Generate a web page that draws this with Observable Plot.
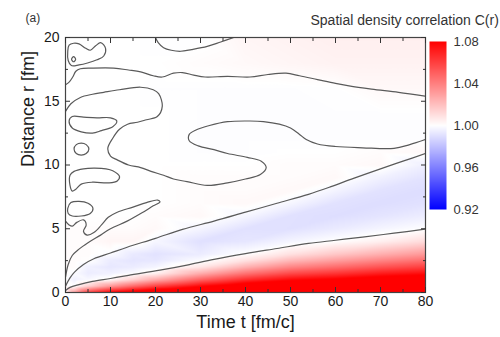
<!DOCTYPE html>
<html><head><meta charset="utf-8">
<script src="https://cdn.jsdelivr.net/npm/d3@7"></script>
<script src="https://cdn.jsdelivr.net/npm/@observablehq/plot@0.6"></script>
<style>
html,body{margin:0;padding:0;background:#fff;overflow:hidden;}
#wrap{position:relative;width:500px;height:337px;font-family:"Liberation Sans",Arial,sans-serif;}
#wrap svg{position:absolute;}
</style></head><body><div id="wrap"></div>
<script>
// ---- grid of C(r,t) values (columns = times, rows = distances) ----
const times = [0, 2, 5, 10, 15, 20, 30, 40, 50, 60, 70, 80];
const distances = [0, 0.5, 1, 1.5, 2, 2.5, 3, 4, 5, 6, 7, 8, 9, 10, 11, 12, 14, 16, 18, 20];
const c_t0  = [1.003, 0.999, 1.0005, 1.001, 1.001, 1.001, 1.001, 1.001, 1.001, 1.0, 1.0, 1.0, 1.0, 1.0, 1.0, 1.0, 1.0, 1.0, 1.0, 1.0];
const c_t2  = [1.03, 1.0, 0.9955, 0.9987, 1.001, 1.001, 1.001, 1.001, 1.001, 1.0, 1.0, 1.0, 1.0, 1.0, 1.0, 1.0, 1.0, 1.0, 1.0, 1.0];
const c_t5  = [1.06, 1.0138, 0.9978, 0.9942, 0.9955, 1.0005, 1.001, 1.001, 1.001, 1.0, 1.0, 1.0, 1.0, 1.0, 1.0, 1.0, 1.0, 1.0, 1.0, 1.0];
const c_t10 = [1.08, 1.032, 1.0022, 0.9956, 0.9926, 0.9939, 0.9989, 1.003, 1.001, 1.0, 1.0, 1.0, 1.0, 1.0, 1.0, 1.0, 1.0, 1.0, 1.0, 1.0];
const c_t15 = [1.09, 1.0464, 1.0137, 0.9989, 0.994, 0.9918, 0.9933, 1.003, 1.001, 1.0, 1.0, 1.0, 1.0, 1.0, 1.0, 1.0, 1.0, 1.0, 1.0, 1.0];
const c_t20 = [1.10, 1.0593, 1.0264, 1.004, 0.9968, 0.9925, 0.991, 0.9973, 1.002, 1.001, 1.0, 1.0, 1.0, 1.0, 1.0, 1.0, 1.0, 0.9995, 1.0, 0.9995];
const c_t30 = [1.11, 1.0775, 1.049, 1.0253, 1.0075, 0.999, 0.9941, 0.9904, 0.9969, 1.002, 1.001, 1.001, 1.001, 1.0, 0.9995, 0.9995, 0.9995, 0.9995, 1.001, 0.9995];
const c_t40 = [1.12, 1.0917, 1.0661, 1.0435, 1.0242, 1.0092, 1.0003, 0.9923, 0.9907, 0.9972, 1.002, 1.001, 1.001, 1.0, 0.9995, 0.9995, 0.9995, 0.9995, 1.002, 1.003];
const c_t50 = [1.125, 1.1002, 1.0773, 1.0565, 1.038, 1.0221, 1.0094, 0.9969, 0.9904, 0.9906, 0.9973, 1.002, 1.001, 1.001, 1.0, 0.9995, 0.9995, 0.9995, 1.003, 1.004];
const c_t60 = [1.125, 1.1029, 1.0822, 1.0631, 1.0458, 1.0305, 1.0174, 1.0005, 0.9936, 0.9897, 0.9909, 0.9966, 1.002, 1.001, 1.0, 0.9995, 0.9995, 0.9998, 1.004, 1.005];
const c_t70 = [1.13, 1.109, 1.0892, 1.0708, 1.0538, 1.0385, 1.025, 1.0048, 0.9969, 0.9918, 0.9895, 0.991, 0.9957, 1.002, 1.001, 0.9995, 0.9995, 1.002, 1.004, 1.005];
const c_t80 = [1.13, 1.1109, 1.0928, 1.0758, 1.06, 1.0455, 1.0324, 1.0112, 0.9999, 0.9945, 0.9908, 0.9895, 0.9912, 0.9952, 1.002, 0.9995, 0.9995, 1.002, 1.004, 1.005];
const corrColumns = [c_t0, c_t2, c_t5, c_t10, c_t15, c_t20, c_t30, c_t40, c_t50, c_t60, c_t70, c_t80];

// ---- contour lines (C = 1.00), [t, r] ----
const lineL1 = [[0,0.15],[1,0.4],[3,0.62],[6,0.87],[10,1.1],[14,1.35],[21,1.75],[27,2.15],[33,2.6],[40,3.05],[47,3.45],[54,3.85],[60,4.1],[66,4.35],[73,4.65],[80,4.97]];
const lineL2 = [[0,0.5],[1,1.15],[2,1.6],[4,2.2],[6.3,2.65],[10,3.1],[13.7,3.55],[20,4.25],[26,4.95],[33,5.6],[40,6.3],[47,7.0],[54,7.7],[59,8.3],[64,8.95],[70,9.7],[75,10.3],[80,10.9]];
const lineL3 = [[0,1.2],[0.6,2.2],[1.5,2.9],[3,3.4],[5,3.9],[7.8,4.5],[10,5.0],[13.7,5.6],[17,6.25],[19.5,6.8],[21,7.1],[20.5,7.25],[18,7.05],[15,6.7],[11.5,6.3],[9.5,5.9],[8,5.3],[6.3,4.7],[4.8,4.5],[4,4.8],[4.6,5.3],[4,5.7],[2.5,5.5],[1.5,5.2],[0.8,5.3],[0,5.6]];
const lineP = [[0,14.2],[1.2,14.8],[3.3,15.3],[6,15.55],[8.5,15.7],[12,15.9],[16.7,16.1],[19.5,15.9],[20.7,15.6],[21.5,14.6],[20.4,13.8],[18,13.55],[16,13.35],[13.8,13.2],[12,12.8],[10.5,12.1],[9.4,11.3],[10,10.7],[11.5,10.4],[14,10.0],[16.7,9.8],[19,9.5],[21.8,9.2],[24,8.9],[27,8.7],[31.5,8.4],[36,8.6],[40,8.9],[43.3,9.25],[44.6,9.8],[43.5,10.3],[40.4,10.6],[36,10.9],[33,11.2],[29.5,11.5],[27.5,11.9],[27.5,12.4],[29,12.75],[32,13.1],[36,13.4],[41,13.45],[44,13.4],[47.5,13.2],[50,12.9],[52,12.4],[53.5,12],[56,11.65],[60,11.45],[66,11.35],[73,11.3],[76.5,11.6],[80,12.0]];
const lineQ = [[0,16.3],[0.8,16.5],[1.6,16.9],[2.3,17.35],[3.3,17.55],[6,17.6],[10.7,17.6],[14,17.45],[16.7,17.3],[19.5,17.0],[21.5,16.9],[24,17.2],[26,17.25],[28.5,17.05],[31,16.9],[36,16.95],[41,16.9],[45,17.1],[49,17.2],[52,17.0],[56,16.7],[60,16.4],[63,16.2],[68,15.95],[74,15.7],[80,15.4]];
const lineE = [[20,20],[20.6,19.6],[21.8,19.2],[23.5,19.0],[25.6,18.92],[28,19.05],[31.5,19.3],[34.5,19.65],[37.4,20]];
const loopA = [[0.8,13.45],[1.5,13.8],[4,13.75],[7,13.7],[10,13.7],[11.4,13.45],[10.5,13.0],[8,12.7],[6,12.5],[3.5,12.6],[1.5,12.9]];
const loopB = [[1.0,9.2],[1.9,9.5],[4,9.7],[6.3,9.75],[9,9.7],[10.5,9.55],[12,9.1],[11.5,8.75],[9.5,8.6],[6,8.65],[3.5,8.5],[2.3,8.1],[1.5,7.95],[1.0,8.4]];
const loopC = [[0.5,6.6],[1.2,7.05],[3,7.15],[5,7.0],[6.1,6.6],[5.5,6.2],[3.5,6.0],[1.5,6.0],[0.6,6.2]];
const loopD = [[0.5,18.9],[0.8,19.4],[1.8,19.55],[3,19.5],[4.5,19.15],[5.5,19.0],[6.7,19.35],[7.8,19.6],[8.9,19.15],[8.5,18.55],[7,18.25],[4.9,18.0],[3,17.85],[1.3,17.8],[0.6,18.2]];
const ringSmall1 = [[1.9,11.25],[2.4,11.6],[3.5,11.72],[4.6,11.6],[5.2,11.25],[4.6,10.9],[3.5,10.78],[2.4,10.9]];
const ringSmall2 = [[1.35,18.3],[1.8,18.5],[2.25,18.3],[1.8,18.1]];

// ---- ticks ----
const timeTicks = [0, 10, 20, 30, 40, 50, 60, 70, 80];
const timeMinor = [5, 15, 25, 35, 45, 55, 65, 75];
const distTicks = [0, 5, 10, 15, 20];
const distMinor = [2.5, 7.5, 12.5, 17.5];
const cbarTicks = [0.92, 0.96, 1.00, 1.04, 1.08];

// ---- build tables ----
const gridData = [];
times.forEach((t, i) => distances.forEach((r, j) => gridData.push({t, r, c: corrColumns[i][j]})));
const toRows = (obj) => Object.entries(obj).flatMap(([id, pts]) => pts.map(([t, r]) => ({id, t, r})));
const openLines = toRows({lineL1, lineL2, lineL3, lineP, lineQ, lineE});
const closedLines = toRows({loopA, loopB, loopC, loopD, ringSmall1, ringSmall2});

const colorScale = {type: "linear", domain: [0.92, 1.0, 1.08], range: ["#0000ff", "#ffffff", "#ff0000"], clamp: true};
const font = '"Liberation Sans", Arial, sans-serif';
const lineStroke = "#5a5a5a";
const noText = () => "";

const main = Plot.plot({
  width: 500, height: 337,
  marginLeft: 65, marginRight: 75, marginTop: 37, marginBottom: 45,
  style: {fontFamily: font, fontSize: "14px", color: "#1a1a1a", background: "transparent", overflow: "visible"},
  x: {domain: [0, 80], axis: null},
  y: {domain: [0, 20], axis: null},
  color: colorScale,
  marks: [
    Plot.raster(gridData, {x: "t", y: "r", fill: "c", interpolate: "barycentric", x1: 0, x2: 80, y1: 0, y2: 20}),
    Plot.line(openLines, {x: "t", y: "r", z: "id", curve: "catmull-rom", stroke: lineStroke, strokeWidth: 1.2, clip: "frame"}),
    Plot.line(closedLines, {x: "t", y: "r", z: "id", curve: "catmull-rom-closed", stroke: lineStroke, strokeWidth: 1.2, clip: "frame"}),
    Plot.frame({stroke: "#444", strokeWidth: 1.2}),
    // tick labels
    Plot.axisX(timeTicks, {anchor: "bottom", tickSize: 0, tickPadding: 4, fontSize: 14, label: null}),
    Plot.axisY(distTicks, {anchor: "left", tickSize: 0, tickPadding: 6, fontSize: 14, label: null}),
    // inward tick marks
    Plot.axisX(timeTicks, {anchor: "bottom", tickSize: -5, tickFormat: noText, label: null, stroke: "#333"}),
    Plot.axisX(timeMinor, {anchor: "bottom", tickSize: -3, tickFormat: noText, label: null, stroke: "#333"}),
    Plot.axisX(timeTicks, {anchor: "top", tickSize: -5, tickFormat: noText, label: null, stroke: "#333"}),
    Plot.axisX(timeMinor, {anchor: "top", tickSize: -3, tickFormat: noText, label: null, stroke: "#333"}),
    Plot.axisY(distTicks, {anchor: "left", tickSize: -5, tickFormat: noText, label: null, stroke: "#333"}),
    Plot.axisY(distMinor, {anchor: "left", tickSize: -3, tickFormat: noText, label: null, stroke: "#333"}),
    Plot.axisY(distTicks, {anchor: "right", tickSize: -5, tickFormat: noText, label: null, stroke: "#333"}),
    Plot.axisY(distMinor, {anchor: "right", tickSize: -3, tickFormat: noText, label: null, stroke: "#333"}),
    // titles
    Plot.text(["Time t [fm/c]"], {text: d => d, frameAnchor: "bottom", dy: 35, fontSize: 18, fill: "#1a1a1a"}),
    Plot.text(["Distance r [fm]"], {text: d => d, frameAnchor: "left", dx: -37, dy: 2, rotate: -90, fontSize: 18, fill: "#1a1a1a"}),
    Plot.text(["(a)"], {text: d => d, frameAnchor: "top-left", textAnchor: "start", lineAnchor: "middle", dx: -40, dy: -19, fontSize: 12, fill: "#333"}),
    Plot.text(["Spatial density correlation C(r)"], {text: d => d, frameAnchor: "top-right", textAnchor: "start", lineAnchor: "middle", dx: -115, dy: -17, fontSize: 14, fill: "#333"})
  ]
});
main.style.left = "0px"; main.style.top = "0px";
document.getElementById("wrap").appendChild(main);

const cbar = Plot.plot({
  width: 71, height: 188,
  marginLeft: 0, marginRight: 54, marginTop: 10, marginBottom: 10,
  style: {fontFamily: font, fontSize: "13px", color: "#333", background: "transparent", overflow: "visible"},
  x: {domain: [0, 1], axis: null},
  y: {domain: [0.92, 1.08], axis: null},
  color: colorScale,
  marks: [
    Plot.raster({fill: (x, y) => y, x1: 0, x2: 1, y1: 0.92, y2: 1.08}),
    Plot.axisY(cbarTicks, {anchor: "right", tickSize: 0, tickPadding: 7, tickFormat: d => d.toFixed(2), fontSize: 13, label: null})
  ]
});
cbar.style.left = "429px"; cbar.style.top = "31px";
document.getElementById("wrap").appendChild(cbar);
</script></body></html>
